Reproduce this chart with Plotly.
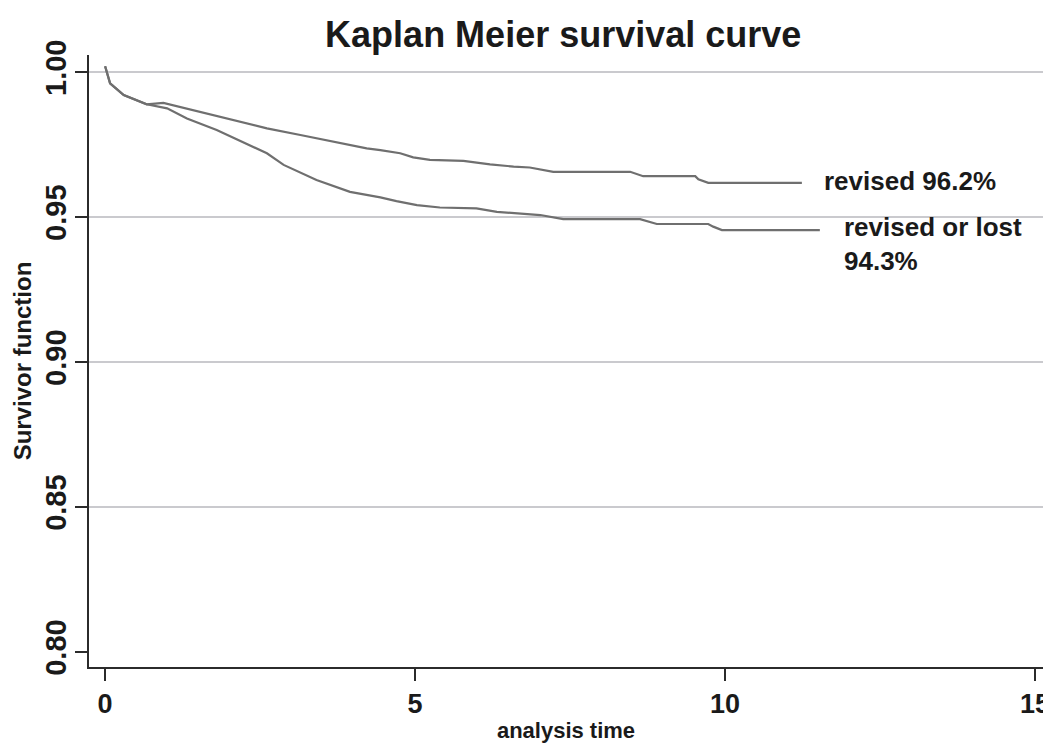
import plotly.graph_objects as go

# Revised (upper curve)
t_revised = [0.0, 0.08, 0.30, 0.56, 0.67, 0.94, 1.21, 1.53, 2.07, 2.61, 3.15, 3.68, 4.22, 4.44,
             4.76, 4.97, 5.24, 5.78, 6.21, 6.59, 6.85, 7.23, 8.47, 8.68, 9.52, 9.57, 9.73, 11.24]
s_revised = [1.002, 0.9961, 0.9921, 0.9898, 0.9889, 0.9894, 0.9880, 0.9863, 0.9834, 0.9806, 0.9783,
             0.9760, 0.9737, 0.9731, 0.9720, 0.9706, 0.9697, 0.9694, 0.9682, 0.9674, 0.9671, 0.9656,
             0.9656, 0.9641, 0.9641, 0.9630, 0.9618, 0.9618]

# Revised or lost (lower curve)
t_lost = [0.0, 0.08, 0.30, 0.56, 0.67, 1.00, 1.32, 1.80, 2.34, 2.61, 2.88, 3.41, 3.95, 4.44, 4.70,
          5.03, 5.40, 5.99, 6.32, 6.75, 7.02, 7.39, 8.63, 8.90, 9.73, 9.81, 9.95, 11.53]
s_lost = [1.002, 0.9961, 0.9921, 0.9898, 0.9889, 0.9875, 0.9840, 0.9800, 0.9748, 0.9720, 0.9680,
          0.9628, 0.9587, 0.9568, 0.9555, 0.9541, 0.9533, 0.9530, 0.9518, 0.9510, 0.9507, 0.9493,
          0.9493, 0.9476, 0.9476, 0.9467, 0.9455, 0.9455]

x_ticks = [0, 5, 10, 15]
y_ticks = [0.80, 0.85, 0.90, 0.95, 1.00]
y_ticktext = ["0.80", "0.85", "0.90", "0.95", "1.00"]
grid_values = [0.85, 0.90, 0.95, 1.00]

labels = ["revised 96.2%", "revised or lost<br>94.3%"]
label_x = [11.56, 11.89]
label_y = [0.9624, 0.9407]

line_color = "#6f6f6f"
axis_color = "#2b2b2b"
font_family = "Liberation Sans, Arial, sans-serif"

fig = go.Figure()
fig.add_trace(go.Scatter(x=t_revised, y=s_revised, mode="lines",
                         line=dict(color=line_color, width=2.2), name="revised", showlegend=False))
fig.add_trace(go.Scatter(x=t_lost, y=s_lost, mode="lines",
                         line=dict(color=line_color, width=2.2), name="revised or lost", showlegend=False))

for g in grid_values:
    fig.add_shape(type="line", xref="paper", x0=0, x1=1, yref="y", y0=g, y1=g,
                  line=dict(color="#b9b9be", width=1.5), layer="below")

for txt, lx, ly in zip(labels, label_x, label_y):
    fig.add_annotation(x=lx, y=ly, text=txt, showarrow=False, xanchor="left", yanchor="middle",
                       align="left",
                       font=dict(family=font_family, size=26, color="#1a1a1a", weight="bold"))

fig.update_layout(
    width=1043, height=744,
    margin=dict(l=89, r=0, t=55, b=77),
    paper_bgcolor="white", plot_bgcolor="white",
    title=dict(text="Kaplan Meier survival curve", x=0.54, xref="container", xanchor="center",
               y=1 - 34 / 744, yref="container", yanchor="middle",
               font=dict(family=font_family, size=36, color="#1a1a1a", weight="bold")),
    xaxis=dict(range=[-0.26, 15.13], tickvals=x_ticks, ticktext=[str(v) for v in x_ticks],
               automargin=False, ticklabeloverflow="allow",
               showgrid=False, zeroline=False, showline=True, linecolor=axis_color, linewidth=2,
               ticks="outside", ticklen=12, tickwidth=1.5, tickcolor=axis_color,
               tickfont=dict(family=font_family, size=27, color="#1a1a1a", weight="bold"),
               title=dict(text="analysis time", standoff=4,
                          font=dict(family=font_family, size=22, color="#1a1a1a", weight="bold"))),
    yaxis=dict(range=[0.7948, 1.0059], tickvals=y_ticks, ticktext=y_ticktext, tickangle=-90,
               automargin=False, ticklabeloverflow="allow",
               showgrid=False, zeroline=False, showline=True, linecolor=axis_color, linewidth=2,
               ticks="outside", ticklen=12, tickwidth=1.5, tickcolor=axis_color,
               ticklabelstandoff=-3,
               tickfont=dict(family=font_family, size=29, color="#1a1a1a", weight="bold"),
               title=dict(text="Survivor function", standoff=2,
                          font=dict(family=font_family, size=24, color="#1a1a1a", weight="bold"))),
)

fig.write_html("out.html", config={"displayModeBar": False},
               post_script="document.body.style.margin='0';")
